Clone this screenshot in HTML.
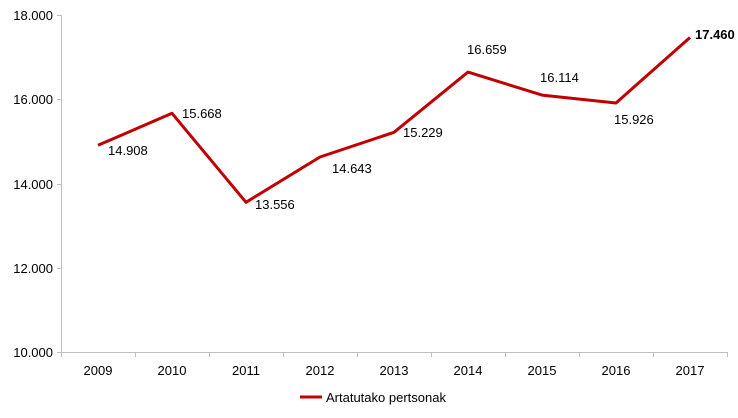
<!DOCTYPE html><html><head><style>body{margin:0;background:#fff}svg{display:block}text{font-family:"Liberation Sans",Arial,sans-serif;font-size:13px;fill:#000}</style></head><body>
<svg width="738" height="418" viewBox="0 0 738 418">
<g stroke="#bfbfbf" stroke-width="1">
<line x1="61.5" y1="15" x2="61.5" y2="352"/>
<line x1="61" y1="352.5" x2="727" y2="352.5"/>
<line x1="57" y1="15.5" x2="61" y2="15.5"/><line x1="57" y1="99.5" x2="61" y2="99.5"/><line x1="57" y1="184.5" x2="61" y2="184.5"/><line x1="57" y1="268.5" x2="61" y2="268.5"/><line x1="57" y1="352.5" x2="61" y2="352.5"/>
<line x1="61.5" y1="352" x2="61.5" y2="357"/><line x1="135.5" y1="352" x2="135.5" y2="357"/><line x1="209.5" y1="352" x2="209.5" y2="357"/><line x1="283.5" y1="352" x2="283.5" y2="357"/><line x1="357.5" y1="352" x2="357.5" y2="357"/><line x1="431.5" y1="352" x2="431.5" y2="357"/><line x1="505.5" y1="352" x2="505.5" y2="357"/><line x1="579.5" y1="352" x2="579.5" y2="357"/><line x1="653.5" y1="352" x2="653.5" y2="357"/><line x1="727.5" y1="352" x2="727.5" y2="357"/>
</g>
<g text-anchor="end"><text x="53" y="20">18.000</text><text x="53" y="104">16.000</text><text x="53" y="189">14.000</text><text x="53" y="273">12.000</text><text x="53" y="357">10.000</text></g>
<g text-anchor="middle"><text x="98" y="375">2009</text><text x="172" y="375">2010</text><text x="246" y="375">2011</text><text x="320" y="375">2012</text><text x="394" y="375">2013</text><text x="468" y="375">2014</text><text x="542" y="375">2015</text><text x="616" y="375">2016</text><text x="690" y="375">2017</text></g>
<polyline fill="none" stroke="#c00000" stroke-width="3" stroke-linejoin="round" points="98,145.3 172,113.3 246,202.3 320,157.0 394,132.3 468,72.1 542,95.1 616,103.0 690,37.5"/>
<text x="108" y="155">14.908</text><text x="182" y="118">15.668</text><text x="255" y="209">13.556</text><text x="332" y="173">14.643</text><text x="403" y="137">15.229</text><text x="467" y="54">16.659</text><text x="540" y="82">16.114</text><text x="614" y="124">15.926</text><text x="695" y="39" style="font-weight:bold">17.460</text>
<line x1="300" y1="397" x2="322" y2="397" stroke="#c00000" stroke-width="3"/>
<text x="326" y="402">Artatutako pertsonak</text>
</svg></body></html>
